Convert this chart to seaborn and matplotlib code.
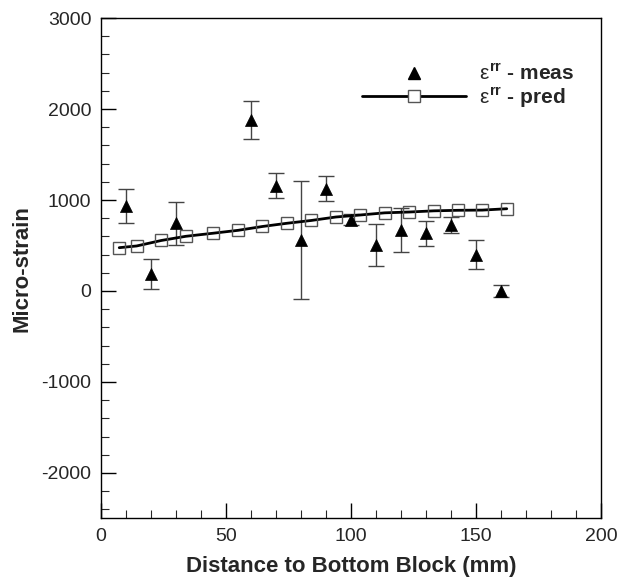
import numpy as np
import pandas as pd
import seaborn as sns
import matplotlib.pyplot as plt
from matplotlib.lines import Line2D
from matplotlib.ticker import MultipleLocator

# predicted strain along the column
pred_x = [7.3, 14.3, 24.1, 33.9, 44.9, 54.9, 64.6, 74.3, 84.1, 93.9,
          103.6, 113.5, 123.3, 133.2, 142.9, 152.5, 162.3]
pred_y = [476, 495, 555, 601, 635, 667, 709, 744, 775, 813,
          835, 859, 868, 881, 887, 889, 904]

# measured strain with error bars
meas_x = [10, 20, 30, 60, 70, 80, 90, 100, 110, 120, 130, 140, 150, 160]
meas_y = [934, 190, 745, 1880, 1159, 560, 1126, 784, 505, 667, 632, 722, 398, -1]
meas_err = [187, 165, 236, 205, 134, 652, 137, 59, 230, 242, 137, 88, 160, 64]

pred = pd.DataFrame({'x': pred_x, 'y': pred_y})
meas = pd.DataFrame({'x': meas_x, 'y': meas_y, 'err': meas_err})

sns.set_style('ticks')
plt.rcParams['font.family'] = ['Liberation Sans', 'DejaVu Sans']
plt.rcParams['axes.unicode_minus'] = False
plt.rcParams['mathtext.fontset'] = 'custom'
plt.rcParams['mathtext.rm'] = 'Liberation Sans'
plt.rcParams['mathtext.it'] = 'Liberation Sans'
plt.rcParams['mathtext.bf'] = 'Liberation Sans:bold'

fig = plt.figure(figsize=(6.18, 5.81), dpi=100)
ax = fig.add_axes([0.1634, 0.1076, 0.8091, 0.8614])

ax.errorbar(meas['x'], meas['y'], yerr=meas['err'], fmt='none',
            ecolor='#444444', elinewidth=1, capsize=6, capthick=1, zorder=2)
sns.lineplot(data=pred, x='x', y='y', ax=ax, color='black', linewidth=2,
             marker='s', markersize=8, markerfacecolor='none',
             markeredgecolor='#555555', markeredgewidth=1, zorder=3)
sns.scatterplot(data=meas, x='x', y='y', ax=ax, marker='^', s=75,
                color='black', edgecolor='black', linewidth=0.5, zorder=4)

ax.set_xlim(0, 200)
ax.set_ylim(-2500, 3000)
ax.xaxis.set_major_locator(MultipleLocator(50))
ax.xaxis.set_minor_locator(MultipleLocator(10))
ax.yaxis.set_major_locator(MultipleLocator(1000))
ax.yaxis.set_minor_locator(MultipleLocator(200))
ax.tick_params(which='major', direction='in', length=11, width=1,
               labelsize=14, pad=7, color='black')
ax.tick_params(which='minor', direction='in', length=6, width=0.8)
for s in ax.spines.values():
    s.set_linewidth(1)
    s.set_color('black')

ax.set_xlabel('Distance to Bottom Block (mm)', fontsize=16, fontweight='bold', labelpad=8)
ax.set_ylabel('Micro-strain', fontsize=16, fontweight='bold', labelpad=6)

handles = [
    Line2D([], [], linestyle='none', marker='^', markersize=8, color='black'),
    Line2D([], [], color='black', linewidth=2, marker='s', markersize=8,
           markerfacecolor='white', markeredgecolor='#555555', markeredgewidth=1),
]
labels = [r'$\varepsilon^{\mathbf{rr}}$ - meas', r'$\varepsilon^{\mathbf{rr}}$ - pred']
ax.legend(handles, labels, loc='upper left', bbox_to_anchor=(0.485, 0.945),
          frameon=False, handlelength=5, handletextpad=0.6, labelspacing=0.05,
          prop={'size': 15, 'weight': 'bold'})

fig.savefig('out.png', dpi=100)
